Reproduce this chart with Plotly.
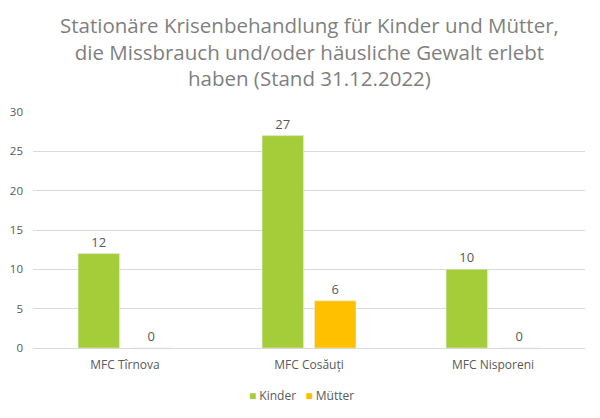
import plotly.graph_objects as go

categories = ["MFC Tîrnova", "MFC Cosăuți", "MFC Nisporeni"]
kinder = [12, 27, 10]
muetter = [0, 6, 0]
y_ticks = [0, 5, 10, 15, 20, 25, 30]
series_names = ["Kinder", "Mütter"]

GREEN = "#A5CD39"
YELLOW = "#FFC000"
TEXT = "#595959"
FONT = "Open Sans"

fig = go.Figure()
fig.add_trace(go.Bar(
    name=series_names[0], x=categories, y=kinder,
    marker_color=GREEN, text=kinder, textposition="outside",
    textfont=dict(size=13, color=TEXT), cliponaxis=False,
))
fig.add_trace(go.Bar(
    name=series_names[1], x=categories, y=muetter,
    marker_color=YELLOW, text=muetter, textposition="outside",
    textfont=dict(size=13, color=TEXT), cliponaxis=False,
))

# title as a paper annotation so all three lines stay inside the page
fig.add_annotation(
    text="Stationäre Krisenbehandlung für Kinder und Mütter,<br>"
         "die Missbrauch und/oder häusliche Gewalt erlebt<br>"
         "haben (Stand 31.12.2022)",
    xref="paper", yref="paper", x=0.5, xanchor="center",
    y=1.258, yanchor="middle", showarrow=False, align="center",
    font=dict(family=FONT, size=20.5, color="#7F7F7F"),
)

# compact legend (small squares close to the labels, like the original)
legend_text = "   ".join(
    f'<span style="color:{c}">■</span> {n}'
    for c, n in zip([GREEN, YELLOW], series_names)
)
fig.add_annotation(
    text=legend_text, xref="paper", yref="paper",
    x=0.486, xanchor="center", y=-0.203, yanchor="middle",
    showarrow=False, font=dict(family=FONT, size=12, color=TEXT),
)

fig.update_layout(
    width=592, height=410,
    paper_bgcolor="white", plot_bgcolor="white",
    font=dict(family=FONT, color=TEXT, size=12),
    margin=dict(l=25, r=15, t=104, b=70, autoexpand=False),
    barmode="group", bargap=0.43, bargroupgap=0.21,
    showlegend=False,
)
fig.update_xaxes(showline=True, linecolor="#D9D9D9", linewidth=1,
                 ticks="", ticklabelstandoff=6, automargin=False,
                 tickfont=dict(size=12, color=TEXT))
fig.update_yaxes(range=[0, 30], tickvals=y_ticks, showgrid=True,
                 gridcolor="#D9D9D9", zeroline=False, ticks="",
                 ticklabelstandoff=9, automargin=False,
                 tickfont=dict(size=11.5, color=TEXT))

fig.write_html("out.html")
